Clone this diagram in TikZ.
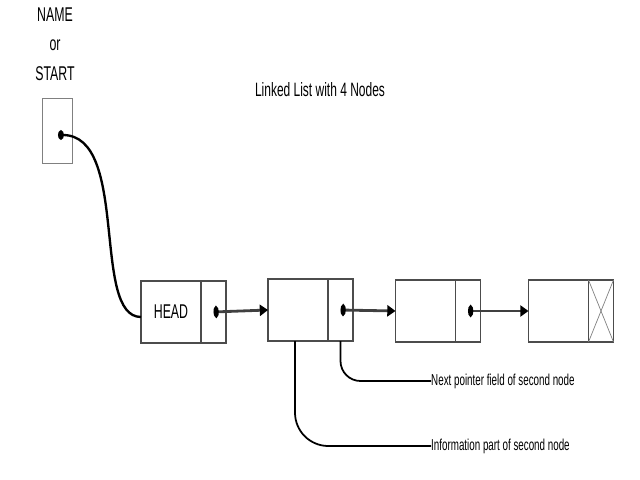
\documentclass[tikz,border=0pt]{standalone}
\usepackage{fontspec}
\setmainfont{Liberation Sans}[FakeStretch=0.62]
\usepackage{xcolor}
\definecolor{ListBorder}{rgb}{0.3, 0.3, 0.3}
\definecolor{ListLight}{rgb}{0.5, 0.5, 0.5}
\definecolor{ListPointer}{rgb}{0.25, 0.25, 0.25}
\usetikzlibrary{positioning,arrows.meta}
\tikzset{
	infocell/.style={draw=ListBorder, line width=1pt, minimum width=1.8cm, minimum height=1.86cm,
		inner sep=0pt, outer sep=0pt, font=\fontsize{17}{19}\selectfont},
	ptrcell/.style={draw=ListBorder, line width=1pt, minimum width=0.75cm, minimum height=1.86cm,
		inner sep=0pt, outer sep=0pt},
	startbox/.style={draw=ListLight, line width=0.8pt, minimum width=0.9cm, minimum height=1.95cm,
		inner sep=0pt},
	link/.style={draw=ListPointer, line width=2.4pt,
		{Ellipse[length=4.5pt,width=9.5pt,color=black]}-{Triangle[length=7pt,width=9.5pt,color=black]}},
	startlink/.style={draw=black, line width=2pt, {Ellipse[length=5pt,width=8pt]}-},
	callout/.style={draw=black, line width=1.5pt},
	note/.style={font=\fontsize{13.5}{15}\selectfont, anchor=west, inner sep=0pt},
}

\begin{document}
\begin{tikzpicture}[x=0.03cm, y=-0.03cm]
	\useasboundingbox (0,0) rectangle (640,480);
	\node[align=center, font=\fontsize{17}{25}\selectfont] (startlbl) at (55,44) {NAME\\or\\START};
	\node[font=\fontsize{16.5}{18}\selectfont] (title) at (320,90) {Linked List with 4 Nodes};
	\node[startbox] (start) at (57,130.5) {};
	\coordinate (startptr) at (58,135);
	\node[infocell] (info1) at (171,312) {HEAD};
	\node[ptrcell, right=0pt of info1] (ptr1) {};
	\node[infocell] (info2) at (298,310) {};
	\node[ptrcell, right=0pt of info2] (ptr2) {};
	\node[infocell] (info3) at (425.5,311) {};
	\node[ptrcell, right=0pt of info3] (ptr3) {};
	\node[infocell] (info4) at (558.5,311) {};
	\node[ptrcell, right=0pt of info4] (ptr4) {};
	\draw[ListLight, line width=0.6pt] (ptr4.north west) -- (ptr4.south east);
	\draw[ListLight, line width=0.6pt] (ptr4.south west) -- (ptr4.north east);
	\draw[startlink] (startptr) .. controls +(72,0) and +(-50,0) .. ([yshift=-0.15cm]info1.west);
	\draw[link] (ptr1.center) -- (info2.west);
	\draw[link] (ptr2.center) -- (info3.west);
	\draw[link] (ptr3.center) -- (info4.west);
	\node[note] (nextlbl) at (431,381) {Next pointer field of second node};
	\node[note] (infolbl) at (431,446) {Information part of second node};
	\draw[callout, rounded corners=0.6cm] (ptr2.south) |- (nextlbl.west);
	\draw[callout, rounded corners=1cm] ([xshift=-0.09cm]info2.south) |- (infolbl.west);
\end{tikzpicture}
\end{document}
